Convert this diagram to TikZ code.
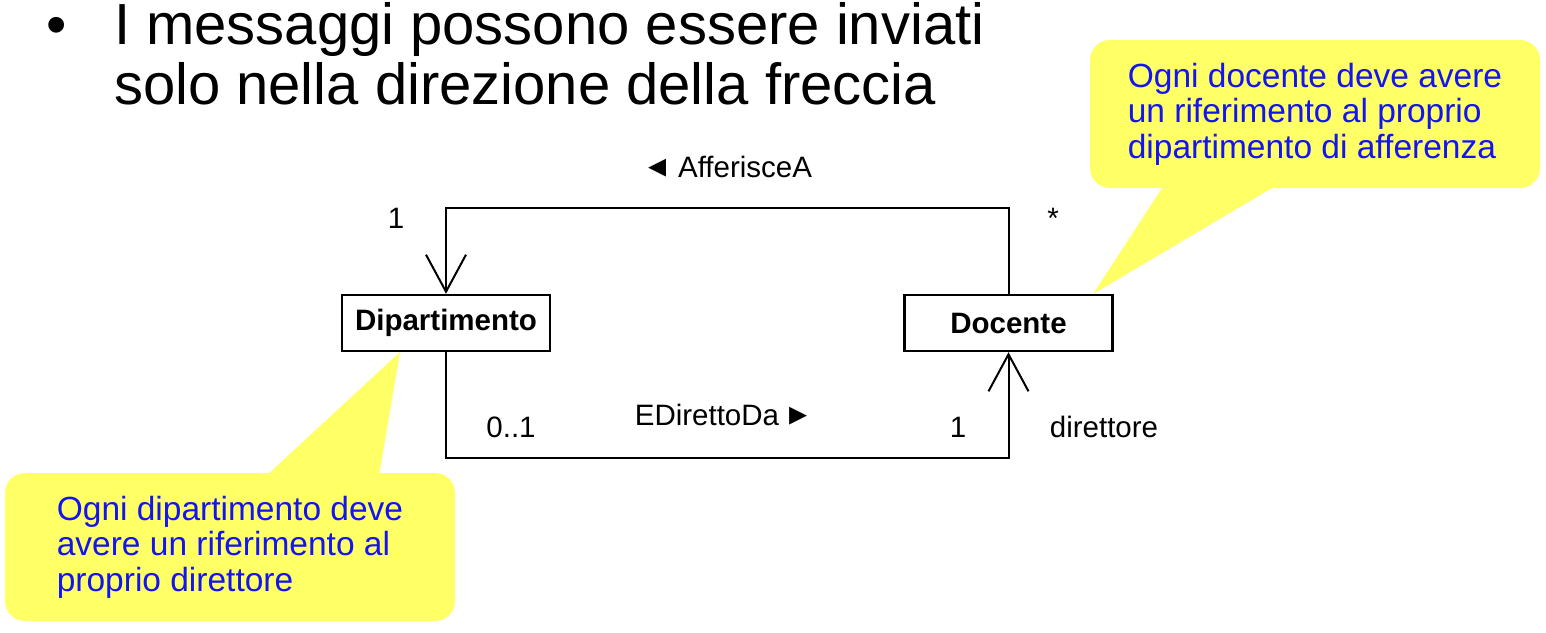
\documentclass[tikz,border=0pt]{standalone}
\usepackage{fontspec}
\setmainfont{Liberation Sans}
\newfontfamily\symb{DejaVu Sans}
\usetikzlibrary{arrows.meta,positioning,calc}
\definecolor{giallo}{RGB}{255,255,102}
\definecolor{blu}{RGB}{20,20,240}
\newcommand{\freccina}[1]{{\symb\fontsize{36}{36}\selectfont #1}}

\begin{document}
\begin{tikzpicture}[x=1pt, y=-1pt, >={Straight Barb[length=37pt,width=40pt]}, line width=2pt]
\tikzstyle{classe}=[draw, line width=2.4pt, minimum width=208pt, minimum height=56pt, inner sep=0pt, font=\fontsize{29.5}{32}\selectfont\bfseries]
\tikzstyle{etichetta}=[inner sep=0pt, anchor=base, font=\fontsize{29.5}{32}\selectfont]
\tikzstyle{titolo}=[inner sep=0pt, anchor=base west, font=\fontsize{58}{60}\selectfont]
\tikzstyle{nota}=[fill=giallo, rounded corners=20pt, minimum width=450pt, minimum height=148pt, align=left, text=blu, font=\fontsize{33.5}{35.5}\selectfont]
\useasboundingbox (0,0) rectangle (1546,632);

% titolo
\node[titolo, anchor=base] (punto) at (57,44) {•};
\node[titolo] (riga1) at (113,44) {I messaggi possono essere inviati};
\node[titolo] (riga2) at (113,104) {solo nella direzione della freccia};

% note
\node[nota] (notaDoc) at (1315,114) {Ogni docente deve avere\\un riferimento al proprio\\dipartimento di afferenza};
\node[nota] (notaDip) at (230,547) {Ogni dipartimento deve\\avere un riferimento al\\proprio direttore};
\coordinate (puntaDoc) at (1093,294);
\coordinate (puntaDip) at (400,352);
\fill[giallo] ($(notaDoc.south west)+(75,-4)$) -- (puntaDoc) -- ($(notaDoc.south west)+(188,-4)$) -- cycle;
\fill[giallo] ($(notaDip.north west)+(262,4)$) -- (puntaDip) -- ($(notaDip.north west)+(375,4)$) -- cycle;

% classi
\node[classe] (dip) at (446,323) {Dipartimento};
\node[classe] (doc) at (1008.5,323) {Docente};

% associazioni
\draw[->] (doc.north) -- ++(0,-86) -| (dip.north);
\draw[->] (dip.south) -- ++(0,106) -| (doc.south);

\node[etichetta] (afferisce) at (730,177) {\freccina{◂}\hspace{12pt}AfferisceA};
\node[etichetta] (molt1) at (396,228) {1};
\node[etichetta] (molt2) at (1053,228) {*};
\node[etichetta] (diretto) at (721,425) {EDirettoDa\hspace{10pt}\freccina{▸}};
\node[etichetta] (molt3) at (511,437) {0..1};
\node[etichetta] (molt4) at (958,437) {1};
\node[etichetta] (ruolo) at (1104,437) {direttore};
\end{tikzpicture}
\end{document}
